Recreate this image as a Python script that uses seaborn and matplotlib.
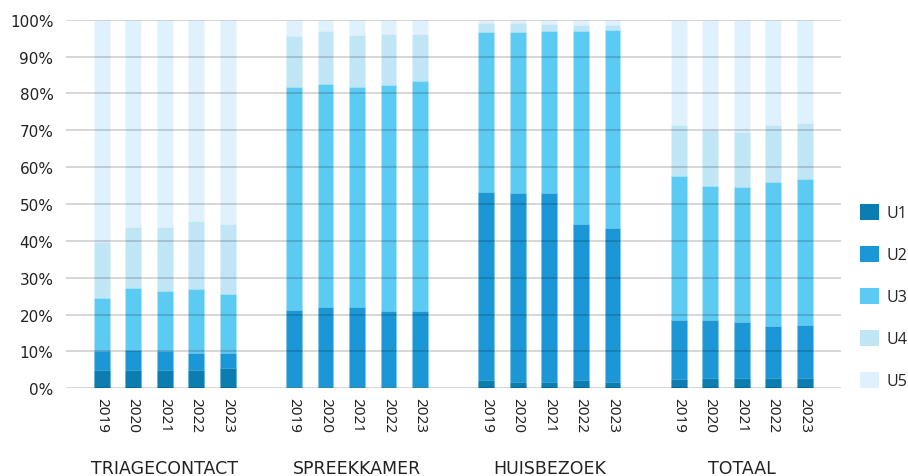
import numpy as np
import pandas as pd
import matplotlib
matplotlib.use("Agg")
import matplotlib.pyplot as plt
from matplotlib.patches import Patch
import seaborn as sns

# Share of contacts per urgency level (percent), per setting and year
groups = ["TRIAGECONTACT", "SPREEKKAMER", "HUISBEZOEK", "TOTAAL"]
years = ["2019", "2020", "2021", "2022", "2023"]
levels = ["U1", "U2", "U3", "U4", "U5"]

u1 = [5.0, 5.0, 5.0, 5.0, 5.5,
      0.3, 0.3, 0.3, 0.3, 0.3,
      2.2, 1.8, 1.8, 2.2, 1.8,
      2.5, 2.7, 2.7, 2.7, 2.7]
u2 = [5.0, 5.5, 5.0, 4.5, 4.2,
      21.0, 21.8, 21.8, 20.8, 20.8,
      51.1, 51.1, 51.1, 42.4, 41.7,
      16.0, 15.7, 15.4, 14.3, 14.6]
u3 = [14.5, 16.7, 16.5, 17.4, 16.0,
      60.4, 60.4, 59.6, 61.2, 62.4,
      43.3, 43.7, 44.0, 52.3, 53.7,
      39.2, 36.6, 36.6, 39.1, 39.5]
u4 = [15.1, 16.6, 17.3, 18.5, 18.9,
      14.0, 14.4, 14.2, 13.9, 12.7,
      2.5, 2.4, 2.0, 1.7, 1.4,
      13.7, 15.1, 14.9, 15.3, 15.2]
u5 = [100 - a - b - c - d for a, b, c, d in zip(u1, u2, u3, u4)]

colors = ["#0b7db1", "#1b97d5", "#5ccbf3", "#c0e6f5", "#dff1fc"]

# Long table: one row per bar segment, with cumulative heights
group_gap = 6.1
rows = []
for gi, g in enumerate(groups):
    for yi, yr in enumerate(years):
        k = gi * len(years) + yi
        vals = [u1[k], u2[k], u3[k], u4[k], u5[k]]
        cum = np.cumsum(vals)
        for li, lv in enumerate(levels):
            rows.append({"group": g, "year": yr, "pos": gi * group_gap + yi,
                         "level": lv, "top": cum[li]})
df = pd.DataFrame(rows)

fig = plt.figure(figsize=(9.08, 4.77), dpi=100)
ax = fig.add_axes([66 / 908, 1 - 389.3 / 477, (840.7 - 66) / 908, (389.3 - 20.7) / 477])

# Stacked bars: draw cumulative totals from the top level down
for lv, col in reversed(list(zip(levels, colors))):
    sub = df[df["level"] == lv]
    sns.barplot(data=sub, x="pos", y="top", native_scale=True, color=col,
                width=0.5, errorbar=None, ax=ax, saturation=1,
                edgecolor=(1, 1, 1, 0.2), linewidth=0.7)

positions = sorted(df["pos"].unique())
ax.set_xlim(positions[0] - 1.13, positions[-1] + 1.14)
ax.set_ylim(0, 100)
ax.set_xlabel("")
ax.set_ylabel("")

ax.set_yticks(np.arange(0, 101, 10))
ax.set_yticklabels([f"{v}%" for v in range(0, 101, 10)],
                   fontsize=11, color="#222222", family="DejaVu Sans")
ax.set_xticks(positions)
ax.set_xticklabels(years * len(groups), rotation=270, fontsize=11,
                   color="#222222", family="Noto Sans")
ax.tick_params(axis="both", length=0)
ax.tick_params(axis="y", pad=9)
ax.tick_params(axis="x", pad=6)

# Grid lines sit on top of the bars
ax.set_axisbelow(False)
ax.yaxis.grid(True, color="black", alpha=0.2, linewidth=1.1)
ax.xaxis.grid(False)
for s in ax.spines.values():
    s.set_visible(False)

for gi, g in enumerate(groups):
    center = gi * group_gap + (len(years) - 1) / 2
    ax.annotate(g, xy=(center, 1 - 469 / 477), xycoords=("data", "figure fraction"),
                ha="center", va="center", fontsize=12.5, color="#222222",
                family="DejaVu Sans")

handles = [Patch(facecolor=c, edgecolor="none") for c in colors]
fig.legend(handles, levels, loc="center left",
           bbox_to_anchor=(860 / 908, 1 - 297.4 / 477), frameon=False,
           borderpad=0, borderaxespad=0,
           handlelength=1.18, handleheight=1.18, handletextpad=0.46,
           labelspacing=1.54, prop={"family": "Open Sans", "size": 11.5},
           labelcolor="#222222")

fig.savefig("out.png", dpi=100, facecolor="white")
